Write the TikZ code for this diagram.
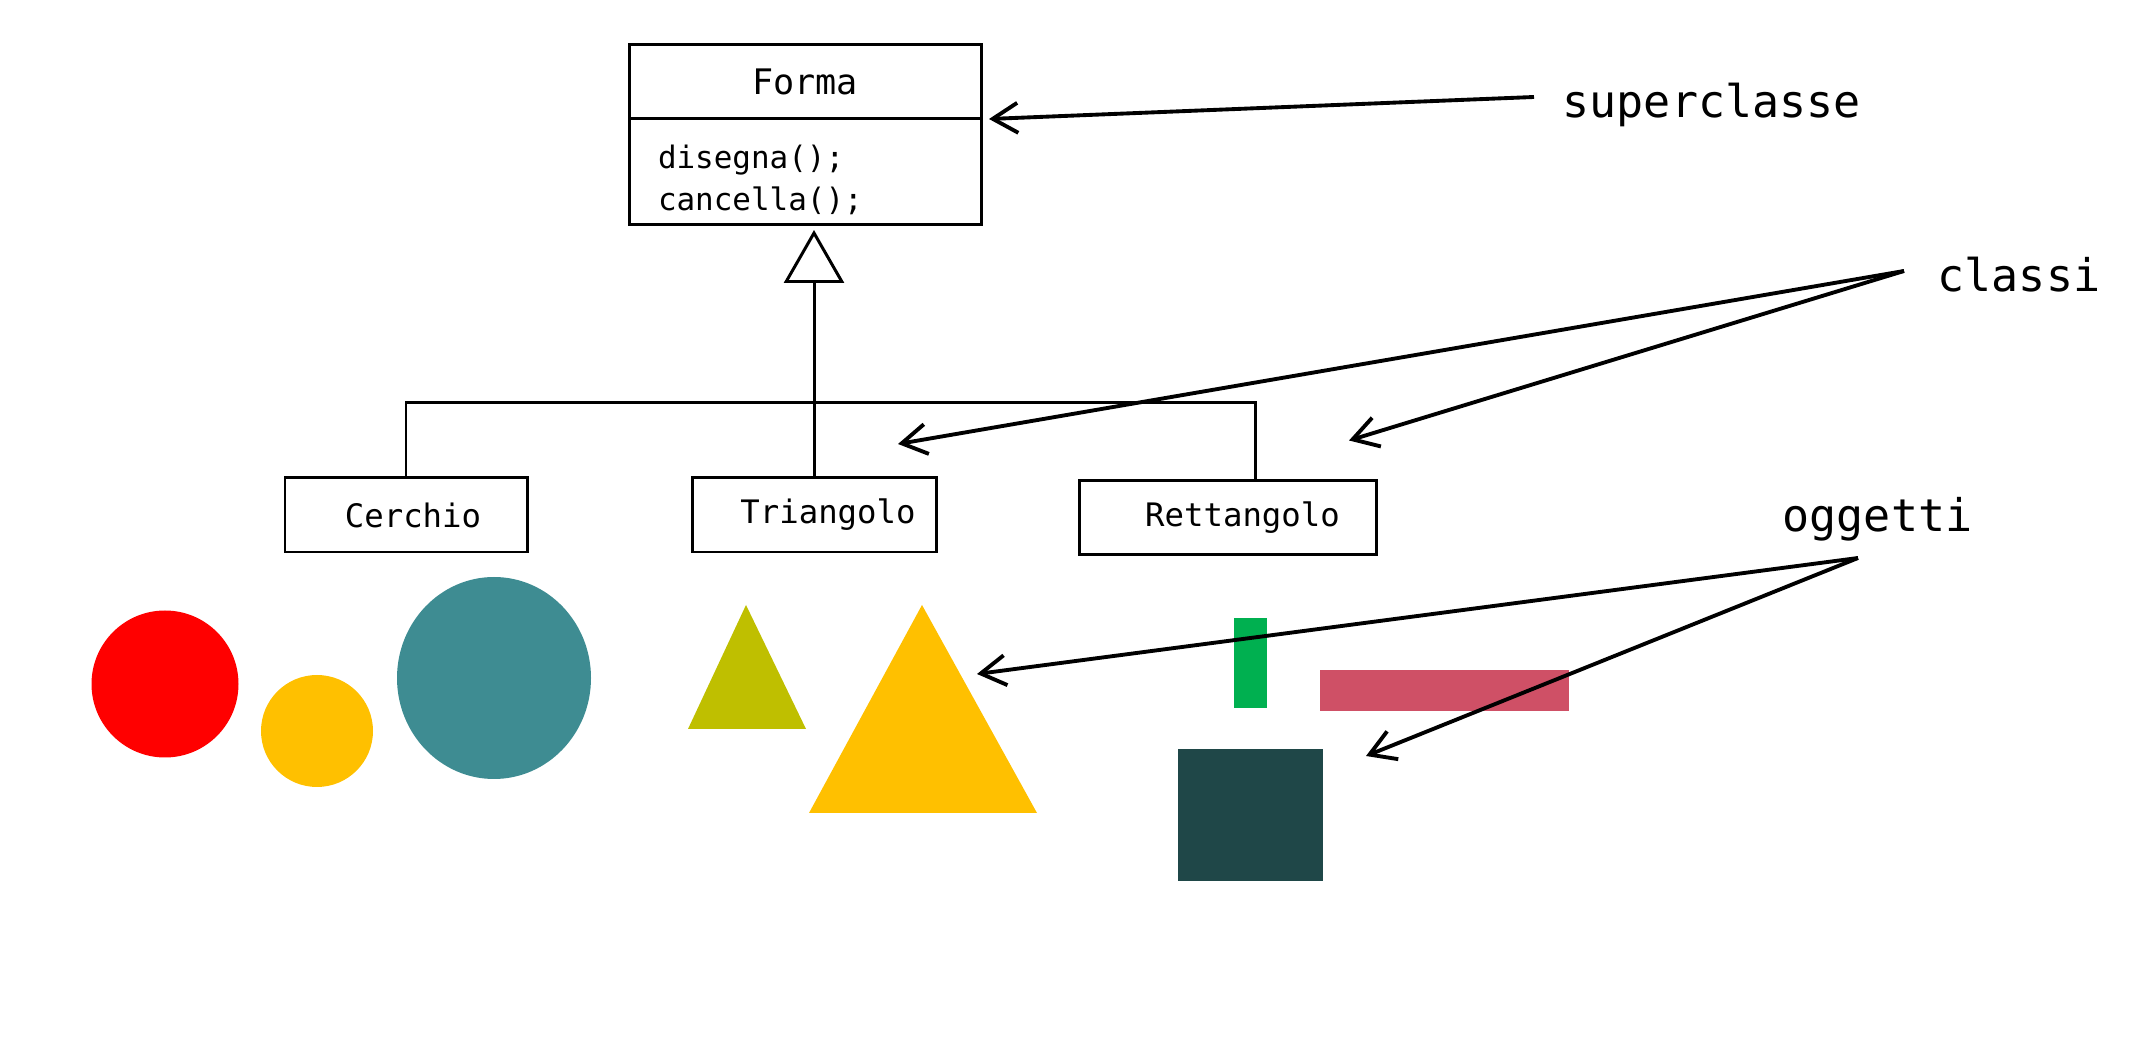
\documentclass[tikz,border=0pt]{standalone}
\usepackage{fontspec}
\setmainfont{DejaVu Sans Mono}
\usetikzlibrary{arrows.meta,positioning}
\definecolor{cred}{HTML}{FF0000}
\definecolor{cyellow}{HTML}{FFC000}
\definecolor{cteal}{HTML}{3E8C92}
\definecolor{colive}{HTML}{BFBF00}
\definecolor{cgreen}{HTML}{00B050}
\definecolor{cpink}{HTML}{CF5066}
\definecolor{cdark}{HTML}{1F4748}
\begin{document}
\begin{tikzpicture}
        \tikzset{
            cls/.style={draw, line width=0.85pt, inner sep=0pt, outer sep=0pt,
            minimum height=0.74cm, font=\fontsize{9.2}{11}\selectfont},
            ops/.style={draw, line width=0.85pt, outer sep=0pt, inner xsep=0.29cm,
            inner ysep=0pt, minimum height=1.06cm, text width=2.94cm, align=left,
            font=\fontsize{8.8}{12}\selectfont},
            lbl/.style={anchor=base west, inner sep=0pt, font=\fontsize{12.8}{15}\selectfont},
            gen/.style={-{Triangle[open, length=0.53cm, width=0.6cm]}, line width=0.85pt, shorten >=0.05cm},
            c1/.style={-, line width=0.85pt},
            ptr/.style={-{Straight Barb[length=0.25cm, width=0.3cm]}, line width=1.1pt}
            }
            \useasboundingbox (0,0) rectangle (21.36,10.42);

            % classes
            \node[cls, minimum width=3.52cm, font=\fontsize{10}{12}\selectfont] (forma) at (8.05,9.60) {Forma};
            \node[ops, below=0pt of forma] (formaops) {\rule{0pt}{0.40cm}disegna();\\cancella();};
            \node[cls, minimum width=2.42cm] (cerchio) at (4.06,5.27) {\hspace*{0.14cm}Cerchio};
            \node[cls, minimum width=2.44cm] (triangolo) at (8.14,5.27) {\hspace*{0.28cm}Triangolo};
            \node[cls, minimum width=2.97cm] (rettangolo) at (12.275,5.245) {\hspace*{0.3cm}Rettangolo};

            \coordinate (busR) at (12.55,6.39);
            \draw[c1] (cerchio.north) |- (busR) -- (busR |- rettangolo.north);
            \draw[gen] (triangolo.north) -- (triangolo.north |- formaops.south);

            % objects
            \fill[cred] (1.65,3.58) circle (0.735);
            \fill[cyellow] (3.17,3.11) circle (0.56);
            \fill[cteal] (4.94,3.64) ellipse (0.97 and 1.01);
            \fill[colive] (7.46,4.37) -- (8.06,3.13) -- (6.88,3.13) -- cycle;
            \fill[cyellow] (9.22,4.37) -- (10.37,2.29) -- (8.09,2.29) -- cycle;
            \fill[cgreen] (12.34,3.34) rectangle (12.67,4.24);
            \fill[cpink] (13.20,3.31) rectangle (15.69,3.72);
            \fill[cdark] (11.78,1.61) rectangle (13.23,2.93);

            % labels
            \node[lbl] (superclasse) at (15.62,9.24) {superclasse};
            \node[lbl] (classi) at (19.37,7.50) {classi};
            \node[lbl] (oggetti) at (17.82,5.10) {oggetti};

            \coordinate (supfrom) at (15.34,9.45);
            \coordinate (classifrom) at (19.04,7.71);
            \coordinate (oggettifrom) at (18.58,4.84);
            \coordinate (tritip) at (9.77,3.68);
            \coordinate (sqtip) at (13.66,2.86);

            \draw[ptr] (supfrom) to ([xshift=0.08cm]forma.south east);
            \draw[ptr] (classifrom) to ([shift={(0.84,0.34)}]triangolo.north);
            \draw[ptr] (classifrom) to ([shift={(-0.27,0.40)}]rettangolo.north east);
            \draw[ptr] (oggettifrom) to (tritip);
            \draw[ptr] (oggettifrom) to (sqtip);
        \end{tikzpicture}
\end{document}
